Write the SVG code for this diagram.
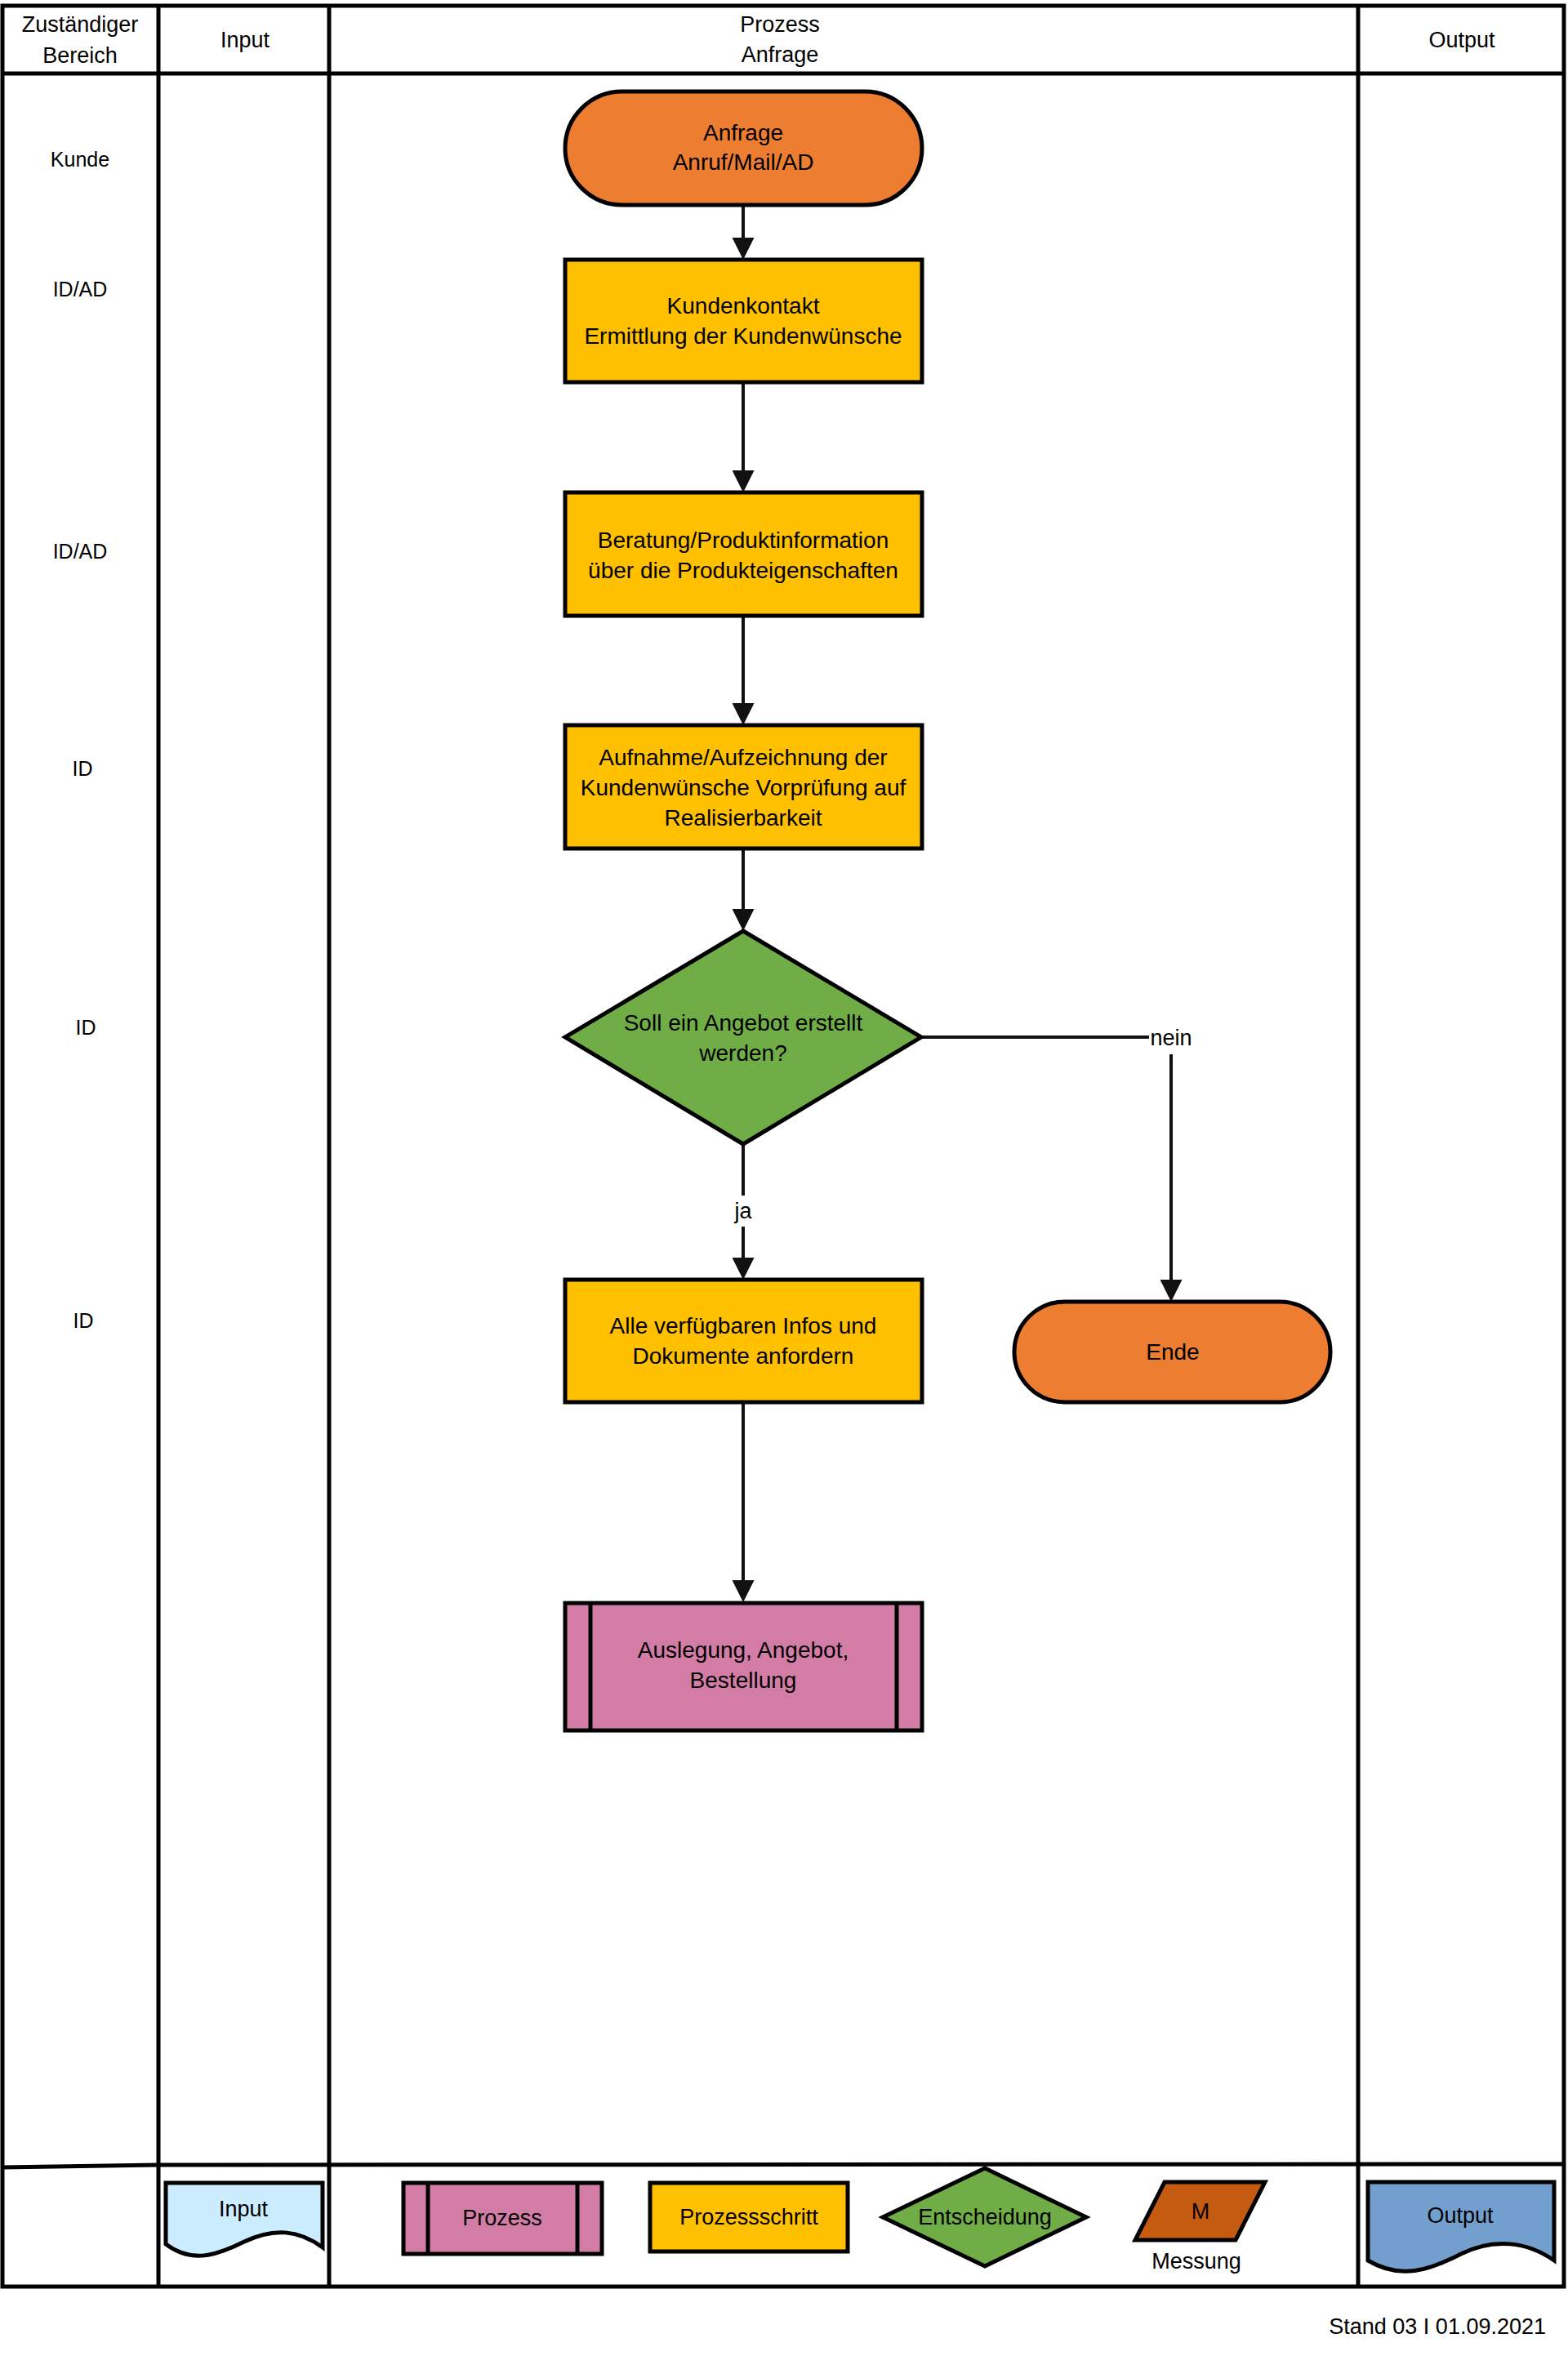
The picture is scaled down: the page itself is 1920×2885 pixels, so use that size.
<svg xmlns="http://www.w3.org/2000/svg" width="1920" height="2885" viewBox="0 0 1920 2885">
<style>
text{font-family:"Liberation Sans",Arial,sans-serif;font-size:28px;fill:#000;text-anchor:middle}
.hd{font-size:27px}
.lbl{font-size:25px}
.grid{stroke:#000;stroke-width:5;fill:none}
.sh{stroke:#000;stroke-width:5}
.con{stroke:#111;stroke-width:4;fill:none}
.term{fill:#ED7D31}
.step{fill:#FFC000}
.dec{fill:#70AD47}
.proc{fill:#D37DA6}
</style>
<defs>
<marker id="ah" markerUnits="userSpaceOnUse" markerWidth="27" markerHeight="27" refX="7" refY="13.5" orient="auto">
<path d="M0,0 L27,13.5 L0,27 z" fill="#111"/>
</marker>
</defs>
<rect width="1920" height="2885" fill="#fff"/>
<g id="table">
<rect class="grid" x="3" y="7" width="1912" height="2793"/>
<line class="grid" x1="3" y1="90" x2="1915" y2="90" stroke-width="6"/>
<line class="grid" x1="194" y1="7" x2="194" y2="2800"/>
<line class="grid" x1="403" y1="7" x2="403" y2="2800"/>
<line class="grid" x1="1663" y1="7" x2="1663" y2="2800"/>
<path class="grid" d="M3,2654 L194,2651 L1915,2650"/>
<text class="hd" x="98" y="39">Zuständiger</text>
<text class="hd" x="98" y="77">Bereich</text>
<text class="hd" x="300" y="58">Input</text>
<text class="hd" x="955" y="39">Prozess</text>
<text class="hd" x="955" y="76">Anfrage</text>
<text class="hd" x="1790" y="58">Output</text>
</g>
<g id="labels">
<text class="lbl" x="98" y="204">Kunde</text>
<text class="lbl" x="98" y="363">ID/AD</text>
<text class="lbl" x="98" y="684">ID/AD</text>
<text class="lbl" x="101" y="950">ID</text>
<text class="lbl" x="105" y="1267">ID</text>
<text class="lbl" x="102" y="1626">ID</text>
</g>
<g id="connectors">
<path class="con" d="M910,251 V298" marker-end="url(#ah)"/>
<path class="con" d="M910,468 V583" marker-end="url(#ah)"/>
<path class="con" d="M910,754 V868" marker-end="url(#ah)"/>
<path class="con" d="M910,1039 V1120" marker-end="url(#ah)"/>
<path class="con" d="M910,1401 V1547" marker-end="url(#ah)"/>
<path class="con" d="M1128,1270 H1434 V1574" marker-end="url(#ah)"/>
<path class="con" d="M910,1718 V1942" marker-end="url(#ah)"/>
<rect x="896" y="1464" width="28" height="38" fill="#fff"/>
<text class="hd" x="910" y="1492">ja</text>
<rect x="1407" y="1251" width="55" height="40" fill="#fff"/>
<text class="hd" x="1434" y="1280">nein</text>
</g>
<g id="start">
<rect class="sh term" x="692" y="112" width="437" height="139" rx="70" ry="70"/>
<text x="910" y="172">Anfrage</text>
<text x="910" y="208">Anruf/Mail/AD</text>
</g>
<g id="kundenkontakt">
<rect class="sh step" x="692" y="318" width="437" height="150"/>
<text x="910" y="384">Kundenkontakt</text>
<text x="910" y="421">Ermittlung der Kundenwünsche</text>
</g>
<g id="beratung">
<rect class="sh step" x="692" y="603" width="437" height="151"/>
<text x="910" y="671">Beratung/Produktinformation</text>
<text x="910" y="708">über die Produkteigenschaften</text>
</g>
<g id="aufnahme">
<rect class="sh step" x="692" y="888" width="437" height="151"/>
<text x="910" y="937">Aufnahme/Aufzeichnung der</text>
<text x="910" y="974">Kundenwünsche Vorprüfung auf</text>
<text x="910" y="1011">Realisierbarkeit</text>
</g>
<g id="entscheidung">
<polygon class="sh dec" points="910,1140 1128,1270 910,1401 692,1270"/>
<text x="910" y="1262">Soll ein Angebot erstellt</text>
<text x="910" y="1299">werden?</text>
</g>
<g id="alle">
<rect class="sh step" x="692" y="1567" width="437" height="150"/>
<text x="910" y="1633">Alle verfügbaren Infos und</text>
<text x="910" y="1670">Dokumente anfordern</text>
</g>
<g id="ende">
<rect class="sh term" x="1242" y="1594" width="387" height="123" rx="62" ry="62"/>
<text x="1436" y="1665">Ende</text>
</g>
<g id="auslegung">
<rect class="sh proc" x="692" y="1963" width="437" height="156"/>
<line class="sh" x1="723" y1="1963" x2="723" y2="2119"/>
<line class="sh" x1="1098" y1="1963" x2="1098" y2="2119"/>
<text x="910" y="2030">Auslegung, Angebot,</text>
<text x="910" y="2067">Bestellung</text>
</g>
<g id="legend">
<path class="sh" fill="#CCECFF" d="M203,2673 H395 V2752 C365,2730 335,2728 299,2745 C265,2762 235,2772 203,2748 Z"/>
<text class="hd" x="298" y="2714">Input</text>
<rect class="sh proc" x="494" y="2673" width="243" height="87"/>
<line class="sh" x1="524" y1="2673" x2="524" y2="2760"/>
<line class="sh" x1="707" y1="2673" x2="707" y2="2760"/>
<text class="hd" x="615" y="2725">Prozess</text>
<rect class="sh step" x="796" y="2673" width="242" height="84"/>
<text class="hd" x="917" y="2724">Prozessschritt</text>
<polygon class="sh dec" points="1206,2655 1330,2715 1206,2775 1081,2715"/>
<text class="hd" x="1206" y="2724">Entscheidung</text>
<polygon class="sh" fill="#C55A11" points="1426,2672 1549,2672 1513,2743 1390,2743"/>
<text class="hd" x="1470" y="2717">M</text>
<text class="hd" x="1465" y="2778">Messung</text>
<path class="sh" fill="#729FCE" d="M1675,2672 H1903 V2768 C1870,2745 1830,2740 1789,2760 C1750,2780 1715,2792 1675,2768 Z"/>
<text class="hd" x="1788" y="2722">Output</text>
</g>
<text x="1893" y="2858" style="text-anchor:end;font-size:27px">Stand 03 I 01.09.2021</text>
</svg>
